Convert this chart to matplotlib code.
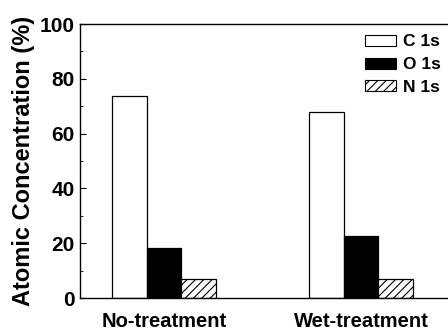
import matplotlib
matplotlib.use("Agg")
import matplotlib.pyplot as plt
from matplotlib.patches import Patch
from matplotlib.ticker import MultipleLocator

plt.rcParams['font.family'] = ['Liberation Sans', 'DejaVu Sans']
plt.rcParams['hatch.linewidth'] = 0.8

categories = ["No-treatment", "Wet-treatment"]
series = ["C 1s", "O 1s", "N 1s"]
c1s = [73.8, 67.8]
o1s = [18.2, 22.8]
n1s = [6.9, 6.8]

fig = plt.figure(figsize=(4.48, 3.31), dpi=100)
ax = fig.add_axes([80/448, 33/331, 1 - 80/448, 274/331])

w = 0.175
xs = [0, 1]
styles = [dict(facecolor='white', edgecolor='black', hatch=None),
          dict(facecolor='black', edgecolor='black', hatch=None),
          dict(facecolor='white', edgecolor='black', hatch='////')]
for i, (vals, st) in enumerate(zip([c1s, o1s, n1s], styles)):
    ax.bar([x + (i - 1) * w for x in xs], vals, width=w, linewidth=0.9,
           **st)

ax.set_xlim(-0.425, 1.44)
ax.set_ylim(0, 100)
ax.yaxis.set_major_locator(MultipleLocator(20))
ax.yaxis.set_minor_locator(MultipleLocator(10))
ax.tick_params(axis='y', which='both', direction='in', right=False)
ax.tick_params(axis='y', which='major', length=4, labelsize=15, pad=4)
ax.tick_params(axis='y', which='minor', length=2)
for lab in ax.get_yticklabels():
    lab.set_fontweight('bold')
ax.set_xticks(xs)
ax.set_xticklabels(categories, fontsize=14.5, fontweight='bold')
ax.tick_params(axis='x', length=0, pad=10)
ax.spines['right'].set_visible(False)
for s in ['left', 'top', 'bottom']:
    ax.spines[s].set_linewidth(1.0)
ax.set_ylabel("Atomic Concentration (%)", fontsize=17, fontweight='bold', labelpad=3)

handles = [Patch(facecolor='white', edgecolor='black', linewidth=0.8),
           Patch(facecolor='black', edgecolor='black', linewidth=0.8),
           Patch(facecolor='white', edgecolor='black', hatch='////', linewidth=0.8)]
leg = ax.legend(handles, series, loc='upper right', bbox_to_anchor=(1.01, 1.0),
                frameon=False, prop={'weight': 'bold', 'size': 12.5},
                handlelength=1.8, handleheight=0.6, handletextpad=0.4,
                labelspacing=0.45, borderaxespad=0.2)

fig.savefig("out.png", dpi=100)
